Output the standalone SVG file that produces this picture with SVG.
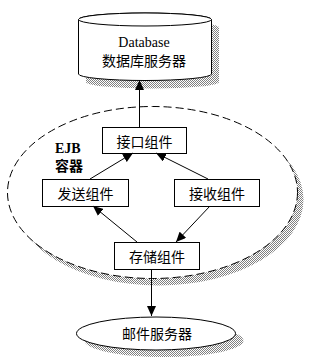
<svg xmlns="http://www.w3.org/2000/svg" width="316" height="364" viewBox="0 0 316 364">
<style>
.ln{stroke:#000;stroke-width:1;fill:none}
.bx{fill:#fff;stroke:#000;stroke-width:1}
.sh{fill:url(#dots);stroke:none}
.t{font-family:"Noto Sans CJK SC","Liberation Sans",sans-serif;font-size:14px;fill:#000;text-anchor:middle}
.s{font-family:"Liberation Serif",serif;font-size:14px;fill:#000;text-anchor:middle}
.b{font-family:"Liberation Serif","Noto Sans CJK SC",serif;font-size:14px;font-weight:bold;fill:#000}
</style>
<defs>
<pattern id="dots" width="2" height="2" patternUnits="userSpaceOnUse">
<rect width="2" height="2" fill="#fff"/>
<rect width="1" height="1" fill="#808080"/>
<rect x="1" y="1" width="1" height="1" fill="#808080"/>
</pattern>
<marker id="ah" viewBox="0 0 10 9" refX="10" refY="4.5" markerWidth="10" markerHeight="9" markerUnits="userSpaceOnUse" orient="auto">
<path d="M0,0 L10,4.5 L0,9 Z" fill="#000"/>
</marker>
</defs>
<g id="ejb-container">
<ellipse class="sh" cx="158.5" cy="199.5" rx="145" ry="86"/>
<ellipse cx="152.5" cy="192.5" rx="145" ry="86" fill="#fff" stroke="#000" stroke-width="1" stroke-dasharray="8 4"/>
<text class="b" x="55" y="153">EJB</text>
<text class="b" x="55" y="171">容器</text>
</g>
<g id="database">
<path class="sh" d="M86,27.5 L86,82 A66.5,6.5 0 0 0 219,82 L219,27.5 A66.5,6.5 0 0 0 86,27.5 Z"/>
<path class="bx" d="M78.5,19.5 L78.5,74 A66.5,6.5 0 0 0 211.5,74 L211.5,19.5 A66.5,6.5 0 0 0 78.5,19.5 Z"/>
<ellipse class="bx" cx="145" cy="19.5" rx="66.5" ry="6.5"/>
<text class="s" x="144" y="47">Database</text>
<text class="t" x="144" y="66">数据库服务器</text>
</g>
<g id="interface">
<rect class="bx" x="102.5" y="127.5" width="84" height="26"/>
<text class="t" x="144.5" y="147">接口组件</text>
</g>
<g id="send">
<rect class="bx" x="42.5" y="179.5" width="86" height="27"/>
<text class="t" x="85.5" y="199">发送组件</text>
</g>
<g id="receive">
<rect class="bx" x="174.5" y="179.5" width="85" height="27"/>
<text class="t" x="217" y="199">接收组件</text>
</g>
<g id="storage">
<rect class="bx" x="114.5" y="242.5" width="85" height="27"/>
<text class="t" x="157" y="262">存储组件</text>
</g>
<g id="mail">
<ellipse class="sh" cx="164" cy="340.5" rx="79.5" ry="16.5"/>
<ellipse class="bx" cx="156" cy="333.5" rx="79.5" ry="16.5"/>
<text class="t" x="157" y="339">邮件服务器</text>
</g>
<g id="connectors">
<line class="ln" x1="139.5" y1="127" x2="139.5" y2="80" marker-end="url(#ah)"/>
<line class="ln" x1="90" y1="179" x2="133" y2="153" marker-end="url(#ah)"/>
<line class="ln" x1="208" y1="179" x2="156" y2="153" marker-end="url(#ah)"/>
<line class="ln" x1="137" y1="242" x2="93" y2="206" marker-end="url(#ah)"/>
<line class="ln" x1="210" y1="206" x2="176" y2="242" marker-end="url(#ah)"/>
<line class="ln" x1="151.5" y1="270" x2="151.5" y2="316" marker-end="url(#ah)"/>
</g>
</svg>
